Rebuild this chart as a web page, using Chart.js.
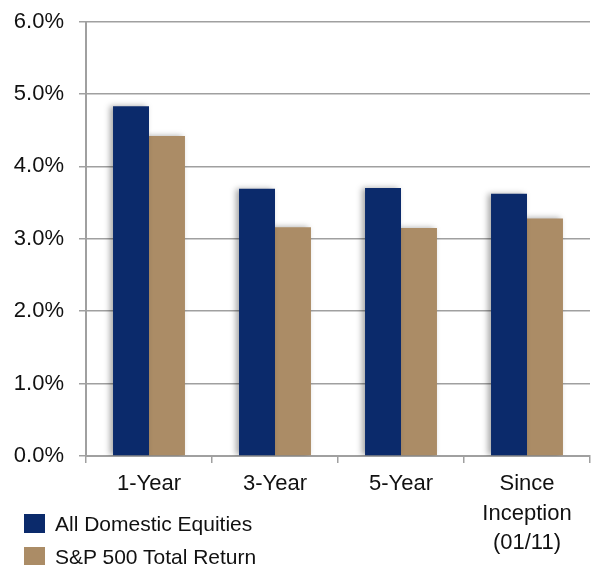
<!DOCTYPE html>
<html>
<head>
<meta charset="utf-8">
<script src="https://cdn.jsdelivr.net/npm/chart.js@4.4.1/dist/chart.umd.min.js"></script>
<style>
  html, body { margin: 0; padding: 0; background: #fff; }
  #wrap { position: relative; width: 591px; height: 565px; overflow: hidden; }
  #legend { position: absolute; left: 24px; top: 507px; font-family: "Liberation Sans", Arial, sans-serif; font-size: 21px; color: #111; }
  #legend div { display: flex; align-items: center; height: 33px; white-space: nowrap; }
  #legend span.box { display: inline-block; width: 21px; height: 19px; margin-right: 10px; }
</style>
</head>
<body>
<div id="wrap">
  <canvas id="chart" width="591" height="565"></canvas>
  <div id="legend"></div>
</div>
<script>
// --- data (percent) ---
const categories = ['1-Year', '3-Year', '5-Year', ['Since', 'Inception', '(01/11)']];
const domesticEquities = [4.83, 3.69, 3.70, 3.62];
const sp500TotalReturn = [4.42, 3.16, 3.15, 3.28];
const seriesNames = ['All Domestic Equities', 'S&P 500 Total Return'];
const seriesColors = ['#0b2a6b', '#ab8c66'];

const gridColor = '#a0a0a0';
const textColor = '#111';
const font = { family: '"Liberation Sans", Arial, sans-serif', size: 22 };

// soft shadow on bars, like the original export
const barShadow = {
  id: 'barShadow',
  beforeDatasetsDraw(chart) {
    const c = chart.ctx;
    c.save();
    c.shadowColor = 'rgba(0,0,0,0.35)';
    c.shadowBlur = 6;
    c.shadowOffsetX = -3;
    c.shadowOffsetY = 0;
  },
  afterDatasetsDraw(chart) { chart.ctx.restore(); },
};

new Chart(document.getElementById('chart'), {
  type: 'bar',
  data: {
    labels: categories,
    datasets: [
      { label: seriesNames[0], data: domesticEquities, backgroundColor: seriesColors[0] },
      { label: seriesNames[1], data: sp500TotalReturn, backgroundColor: seriesColors[1] },
    ],
  },
  options: {
    responsive: false,
    animation: false,
    layout: { padding: { top: 0, right: 1, bottom: 1, left: 11 } },
    datasets: { bar: { categoryPercentage: 0.571, barPercentage: 1.0 } },
    plugins: { legend: { display: false }, tooltip: { enabled: false } },
    scales: {
      x: {
        grid: { drawOnChartArea: false, drawTicks: true, tickLength: 7, color: gridColor, lineWidth: 1.5 },
        border: { color: gridColor, width: 2 },
        ticks: { color: textColor, font: { ...font, lineHeight: 1.32 }, padding: 7, maxRotation: 0 },
      },
      y: {
        min: 0, max: 6,
        afterFit: s => { s.width = 75; },
        grid: { color: gridColor, lineWidth: 1.5, tickLength: 7 },
        border: { color: gridColor, width: 2 },
        ticks: { stepSize: 1, color: textColor, font: { ...font, lineHeight: 0.6 }, padding: 15, callback: v => v.toFixed(1) + '%' },
      },
    },
  },
  plugins: [barShadow],
});

// legend (html, bottom-left)
const legend = document.getElementById('legend');
seriesNames.forEach((name, i) => {
  const row = document.createElement('div');
  row.innerHTML = `<span class="box" style="background:${seriesColors[i]}"></span>${name.replace('&', '&amp;')}`;
  legend.appendChild(row);
});
</script>
</body>
</html>
